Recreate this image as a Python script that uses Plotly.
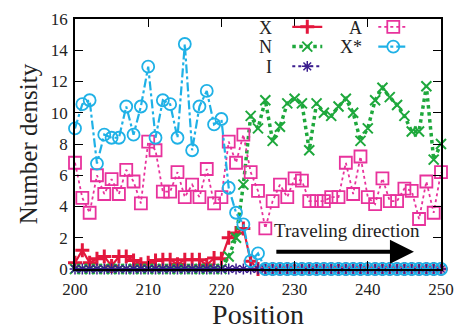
import plotly.graph_objects as go

positions = list(range(200, 251))

X_vals = [0.4, 1.2, 0.4, 0.65, 0.8, 0.2, 0.8, 0.8, 0.55, 0.3,
          0.4, 0.55, 0.6, 0.6, 0.3, 0.6, 0.6, 0.6, 0.25, 0.7,
          0.65, 2.0, 2.3, 2.6, 0.5, 0.0] + [0.0] * 25

N_vals = [0.0] * 21 + [0.8, 2.0, 5.4, 9.8, 9.0, 10.8, 8.2, 9.1, 10.6,
                       10.9, 10.6, 7.6, 10.6, 10.0, 9.8, 10.4, 10.9, 10.0, 8.2,
                       9.0, 10.8, 11.6, 11.0, 10.5, 9.8, 8.8, 8.8, 11.7, 7.0,
                       8.0]

I_vals = [0.0] * 51

A_vals = [6.8, 4.55, 3.6, 6.0, 4.8, 5.75, 4.8, 6.35, 5.6, 4.2,
          8.15, 7.6, 4.95, 4.95, 6.2, 4.6, 5.4, 4.6, 6.4, 4.2,
          4.6, 8.15, 6.8, 8.6, 6.2, 5.0, 2.6, 4.35, 5.4, 4.6,
          5.8, 5.65, 4.35, 4.35, 4.35, 4.6, 4.6, 6.8, 4.8, 7.2,
          4.6, 4.15, 5.8, 4.35, 4.35, 5.15, 5.0, 3.2, 5.6, 3.6,
          6.2]

Xs_vals = [9.0, 10.55, 10.8, 6.75, 8.6, 8.4, 8.4, 10.4, 8.6, 10.4,
           12.95, 8.4, 10.8, 10.55, 8.4, 14.4, 7.6, 10.4, 11.4, 9.25,
           9.6, 5.2, 3.6, 2.85, 0.5, 1.0] + [0.0] * 25

series_labels = ["X", "N", "I", "A", "X*"]
x_ticks = [200, 210, 220, 230, 240, 250]
y_ticks = [0, 2, 4, 6, 8, 10, 12, 14, 16]

RED = "#e3173d"
GREEN = "#1ea83c"
PURPLE = "#3b1d8e"
PINK = "#e8329c"
CYAN = "#1fb1e6"
SERIF = "Liberation Serif"

fig = go.Figure()

fig.add_trace(go.Scatter(
    x=positions, y=X_vals, name=" ", legend="legend", mode="lines+markers",
    line=dict(color=RED, width=2.2),
    marker=dict(symbol="cross-thin", size=10, color=RED, line=dict(color=RED, width=3)),
    cliponaxis=False))
fig.add_trace(go.Scatter(
    x=positions, y=N_vals, name=" ", legend="legend2", mode="lines+markers",
    line=dict(color=GREEN, width=3.5, dash="dot"),
    marker=dict(symbol="x-thin", size=10, color=GREEN, line=dict(color=GREEN, width=2)),
    cliponaxis=False))
fig.add_trace(go.Scatter(
    x=positions, y=I_vals, name=" ", legend="legend3", mode="lines+markers",
    line=dict(color=PURPLE, width=2, dash="dot"),
    marker=dict(symbol="asterisk", size=9, color=PURPLE, line=dict(color=PURPLE, width=1.5)),
    cliponaxis=False))
fig.add_trace(go.Scatter(
    x=positions, y=A_vals, name=" ", legend="legend4", mode="lines+markers",
    line=dict(color=PINK, width=1.8, dash="dot"),
    marker=dict(symbol="square-open", size=12, color=PINK, line=dict(color=PINK, width=1.8)),
    cliponaxis=False))
fig.add_trace(go.Scatter(
    x=positions, y=Xs_vals, name=" ", legend="legend5", mode="lines+markers",
    line=dict(color=CYAN, width=2.2, dash="dashdot"),
    marker=dict(symbol="circle-open", size=12, color=CYAN, line=dict(color=CYAN, width=1.8)),
    cliponaxis=False))

axis_common = dict(
    showgrid=False, zeroline=False, showline=True, linecolor="black", linewidth=1.5,
    mirror="allticks", ticks="inside", ticklen=8, tickcolor="black", tickwidth=1,
    tickfont=dict(family=SERIF, size=17, color="#222"),
)

fig.update_xaxes(range=[200, 250], tickvals=x_ticks, ticklabelstandoff=4, **axis_common,
                 title=dict(text="Position", font=dict(family=SERIF, size=28, color="#222"), standoff=2))
fig.update_yaxes(range=[0, 16], tickvals=y_ticks, ticklabelstandoff=2, **axis_common,
                 title=dict(text="Number density", font=dict(family=SERIF, size=25, color="#222"), standoff=6))

legend_common = dict(bgcolor="rgba(0,0,0,0)", borderwidth=0, font=dict(family=SERIF, size=14),
                     yanchor="top", xanchor="left")

lab_font = dict(family=SERIF, size=18, color="#222")
label_pos = [(0.545, 0.966), (0.545, 0.887), (0.545, 0.808), (0.79, 0.966), (0.79, 0.887)]
annotations = [
    dict(text=t, x=px, y=py, xref="paper", yref="paper", xanchor="right", yanchor="middle",
         showarrow=False, font=lab_font)
    for t, (px, py) in zip(series_labels, label_pos)
]
annotations += [
    dict(text="Traveling direction", x=237.2, y=2.45, xref="x", yref="y", showarrow=False,
         xanchor="center", yanchor="middle", font=dict(family=SERIF, size=19, color="#222")),
    dict(x=246.3, y=1.1, ax=227.3, ay=1.1, xref="x", yref="y", axref="x", ayref="y",
         text="", showarrow=True, arrowhead=2, arrowsize=1.2, arrowwidth=4, arrowcolor="black"),
]

fig.update_layout(
    width=464, height=331,
    margin=dict(l=75, r=20, t=10, b=61),
    plot_bgcolor="white", paper_bgcolor="white",
    showlegend=True,
    legend=dict(x=0.58, y=1.031, **legend_common),
    legend2=dict(x=0.58, y=0.952, **legend_common),
    legend3=dict(x=0.58, y=0.873, **legend_common),
    legend4=dict(x=0.815, y=1.031, **legend_common),
    legend5=dict(x=0.815, y=0.952, **legend_common),
    annotations=annotations,
)

fig.write_html("out.html")
